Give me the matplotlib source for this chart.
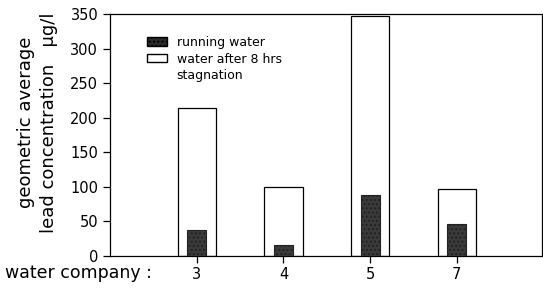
import numpy as np
import matplotlib
matplotlib.use("Agg")
import matplotlib.pyplot as plt
from matplotlib.patches import Patch

# lead concentration per water company (ug/l)
companies = ["3", "4", "5", "7"]
running = [37, 16, 88, 46]
stagnation = [214, 100, 347, 97]

plt.rcParams['font.family'] = ['DejaVu Sans']
plt.rcParams['hatch.color'] = '#9a9a9a'

fig = plt.figure(figsize=(5.43, 2.88), dpi=100)
ax = fig.add_axes([0.2026, 0.111, 0.7954, 0.840])

x = np.arange(len(companies))
ax.bar(x, stagnation, width=0.44, facecolor="white", edgecolor="black",
       linewidth=0.9, zorder=2)
ax.bar(x, running, width=0.22, facecolor="#3a3a3a", edgecolor="#222222",
       linewidth=0.8, hatch="....", zorder=3)

ax.set_xlim(-1, 3.98)
ax.set_ylim(0, 350)
ax.set_yticks(np.arange(0, 351, 50))
ax.set_xticks(x)
ax.set_xticklabels(companies)
ax.tick_params(direction="out", length=5, width=0.9, labelsize=10.5,
               color="black")
ax.tick_params(axis="x", pad=3)
for s in ax.spines.values():
    s.set_linewidth(0.9)

h_run = Patch(facecolor="#2a2a2a", edgecolor="black", hatch="....")
h_stag = Patch(facecolor="white", edgecolor="black")
h_none = Patch(facecolor="none", edgecolor="none")
ax.legend([h_run, h_stag, h_none],
          ["running water", "water after 8 hrs", "stagnation"],
          loc="upper left", bbox_to_anchor=(0.085, 0.91), frameon=False,
          fontsize=9, handlelength=1.6, handleheight=0.65, handletextpad=0.8,
          labelspacing=0.3, borderpad=0.0, borderaxespad=0.0)

fig.text(0.048, 0.575, "geometric average", rotation=90, ha="center",
         va="center", fontsize=13)
fig.text(0.091, 0.575, "lead concentration   \u03bcg/l", rotation=90,
         ha="center", va="center", fontsize=13)
fig.text(0.009, 0.052, "water company :", ha="left", va="center",
         fontsize=12.5)

fig.savefig("out.png", dpi=100)
